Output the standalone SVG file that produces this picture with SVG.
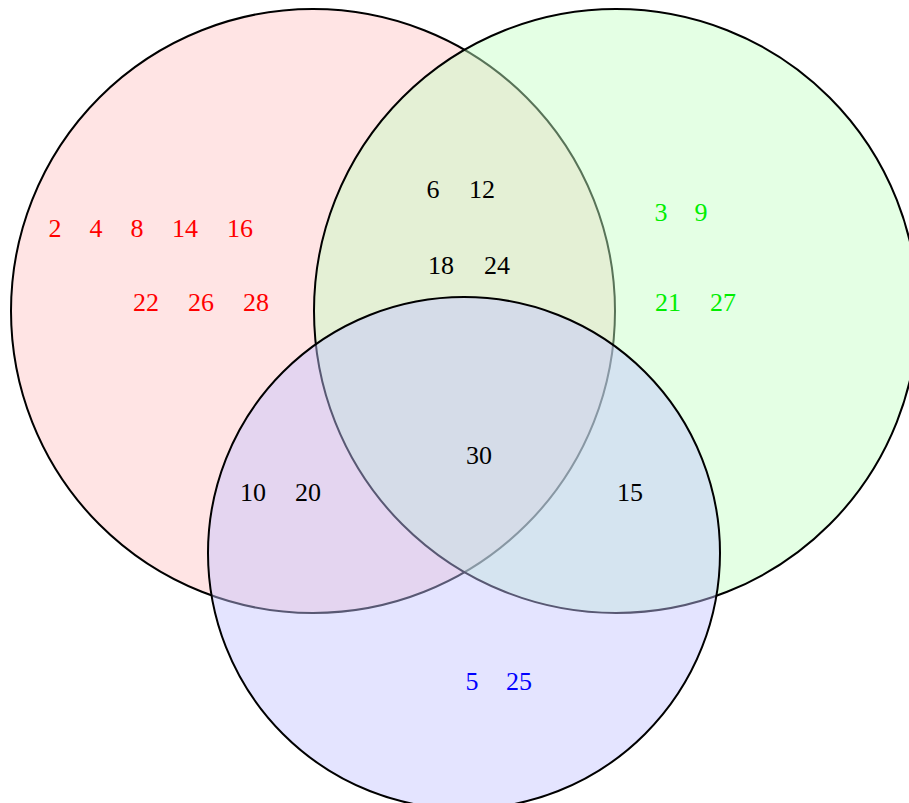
<svg xmlns="http://www.w3.org/2000/svg" width="909" height="803" viewBox="0 0 909 803">
<style>
.c{stroke:#000;stroke-width:2}
.f{fill-opacity:0.45}
text{font-family:"Liberation Serif","DejaVu Serif",serif;font-size:26px;text-anchor:middle}
.r{fill:#ff0000}.g{fill:#00ee00}.b{fill:#0000ff}.k{fill:#000}
</style>
<rect width="909" height="803" fill="#fff"/>
<g id="circles">
<g id="setA"><circle cx="313" cy="311" r="302" fill="#ffc4c4" class="f"/><circle cx="313" cy="311" r="302" fill="none" class="c"/></g>
<g id="setB"><circle cx="616" cy="311" r="302" fill="#c4ffc4" class="f"/><circle cx="616" cy="311" r="302" fill="none" class="c"/></g>
<g id="setC"><circle cx="464" cy="553" r="256" fill="#c4c4ff" class="f"/><circle cx="464" cy="553" r="256" fill="none" class="c"/></g>
</g>
<g id="labels">
<g id="onlyA" class="r">
<text x="55" y="237">2</text><text x="96" y="237">4</text><text x="137" y="237">8</text><text x="185" y="237">14</text><text x="240" y="237">16</text>
<text x="146" y="311">22</text><text x="201" y="311">26</text><text x="256" y="311">28</text>
</g>
<g id="AB" class="k">
<text x="433" y="198">6</text><text x="482" y="198">12</text>
<text x="441" y="274">18</text><text x="497" y="274">24</text>
</g>
<g id="onlyB" class="g">
<text x="661" y="221">3</text><text x="701" y="221">9</text>
<text x="668" y="311">21</text><text x="723" y="311">27</text>
</g>
<g id="ABC" class="k"><text x="479" y="464">30</text></g>
<g id="AC" class="k"><text x="253" y="501">10</text><text x="308" y="501">20</text></g>
<g id="BC" class="k"><text x="630" y="501">15</text></g>
<g id="onlyC" class="b"><text x="472" y="690">5</text><text x="519" y="690">25</text></g>
</g>
</svg>
